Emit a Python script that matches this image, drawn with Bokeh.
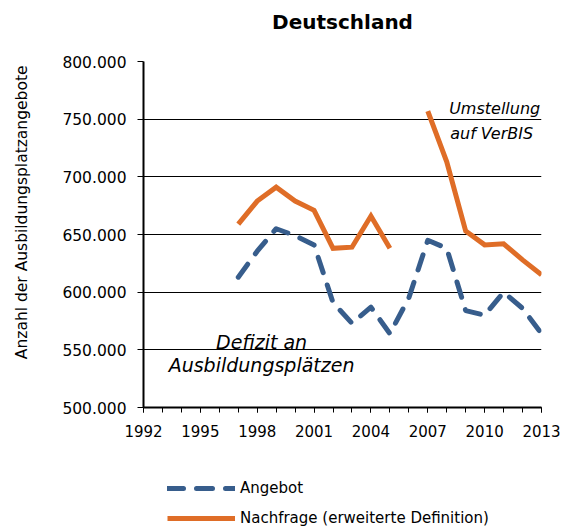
import math
from bokeh.plotting import figure
from bokeh.layouts import column
from bokeh.models import Range1d, FixedTicker, CustomJSTickFormatter, Legend, LegendItem, Label, Title
from bokeh.embed import file_html
from bokeh.resources import INLINE

# ---- data ----
years = [1997, 1998, 1999, 2000, 2001, 2002, 2003, 2004, 2005, 2006,
         2007, 2008, 2009, 2010, 2011, 2012, 2013]
angebot = [613000, 635500, 655000, 649000, 641000, 591000, 573000, 587000, 564000, 595000,
           645000, 638000, 584000, 580000, 600000, 586000, 564000]
nachfrage = [659000, 679000, 691000, 679000, 671000, 638000, 639000, 666000, 638000, math.nan,
             757000, 713000, 653000, 641000, 642000, 628000, 615000]
x_ticks = [1992, 1995, 1998, 2001, 2004, 2007, 2010, 2013]
x_minor = list(range(1992, 2014))
y_ticks = [500000, 550000, 600000, 650000, 700000, 750000, 800000]

title_text = "Deutschland"
y_label = "Anzahl der Ausbildungsplatzangebote"
series_names = ["Angebot", "Nachfrage (erweiterte Definition)"]
FONT = "DejaVu Sans"
BLUE = "#375D8C"
ORANGE = "#DF6D27"

p = figure(width=565, height=443, output_backend="svg", toolbar_location=None,
           x_range=Range1d(1992, 2013), y_range=Range1d(500000, 800000),
           min_border_left=143, min_border_right=24, min_border_top=61, min_border_bottom=36)
p.outline_line_color = None
p.background_fill_color = "white"

p.title.text = title_text
p.title.align = "center"
p.title.offset = -4
p.title.text_font = FONT
p.title.text_font_size = "20px"
p.title.text_font_style = "bold"
p.title.text_color = "black"
p.title.standoff = 0
# spacer between title and plot area
p.add_layout(Title(text=" ", text_font_size="1px", standoff=25), "above")

p.xgrid.visible = False
p.ygrid.ticker = FixedTicker(ticks=y_ticks)
p.ygrid.grid_line_color = "black"
p.ygrid.grid_line_width = 1

p.xaxis.ticker = FixedTicker(ticks=x_ticks, minor_ticks=x_minor)
p.yaxis.ticker = FixedTicker(ticks=y_ticks, minor_ticks=[])
p.yaxis.formatter = CustomJSTickFormatter(code="return (tick/1000).toFixed(0) + '.000';")

for ax in (p.xaxis[0], p.yaxis[0]):
    ax.axis_line_color = "black"
    ax.axis_line_width = 2
    ax.major_tick_line_color = "black"
    ax.minor_tick_line_color = "black"
    ax.major_tick_line_width = 1
    ax.minor_tick_line_width = 1
    ax.major_tick_in = 0
    ax.minor_tick_in = 0
    ax.major_label_text_font = FONT
    ax.major_label_text_color = "black"

p.xaxis.major_label_text_font_size = "15px"
p.yaxis.major_label_text_font_size = "15.5px"
p.xaxis.major_tick_out = 5
p.xaxis.minor_tick_out = 5
p.xaxis.major_label_standoff = 12
p.yaxis.major_tick_out = 6
p.yaxis.minor_tick_out = 0
p.yaxis.major_label_standoff = 11

# leading no-break spaces shift the centred axis title upwards as in the original
p.yaxis.axis_label = "\u00a0" * 9 + y_label
p.yaxis.axis_label_text_font = FONT
p.yaxis.axis_label_text_font_size = "15.5px"
p.yaxis.axis_label_text_font_style = "normal"
p.yaxis.axis_label_text_color = "black"
p.yaxis.axis_label_standoff = 28

p.line(years, angebot, line_color=BLUE, line_width=5,
       line_dash="16 13", line_cap="round", line_join="round")
p.line(years, nachfrage, line_color=ORANGE, line_width=5, line_join="miter")

def add_label(x, y, text, size):
    p.add_layout(Label(x=x, y=y, text=text, text_align="center", text_baseline="middle",
                       text_font=FONT, text_font_size=size, text_font_style="italic",
                       text_color="black"))

add_label(2010.53, 759000, "Umstellung", "16px")
add_label(2010.37, 737500, "auf VerBIS", "16px")
add_label(1998.23, 556500, "Defizit an", "19px")
add_label(1998.23, 537000, "Ausbildungsplätzen", "19px")

# ---- legend panel (second figure below the chart) ----
lg = figure(width=565, height=86, output_backend="svg", toolbar_location=None,
            x_range=Range1d(1992, 2013), y_range=Range1d(0, 1),
            x_axis_type=None, y_axis_type=None,
            min_border_left=0, min_border_right=0, min_border_top=0, min_border_bottom=0)
lg.outline_line_color = None
lg.grid.visible = False
la = lg.line(years, angebot, line_color=BLUE, line_width=5,
             line_dash="16 13", line_cap="round", line_join="round")
ln = lg.line(years, nachfrage, line_color=ORANGE, line_width=5)

legend = Legend(items=[LegendItem(label=series_names[0], renderers=[la]),
                       LegendItem(label=series_names[1], renderers=[ln])],
                location=(24, 1), orientation="vertical",
                glyph_width=68, glyph_height=20, label_height=20, spacing=10,
                padding=0, margin=0, label_standoff=5,
                border_line_color=None, background_fill_alpha=0,
                label_text_font=FONT, label_text_font_size="15px", label_text_color="black")
lg.add_layout(legend)

layout = column(p, lg, spacing=0)
open("out.html", "w").write(file_html(layout, INLINE))
